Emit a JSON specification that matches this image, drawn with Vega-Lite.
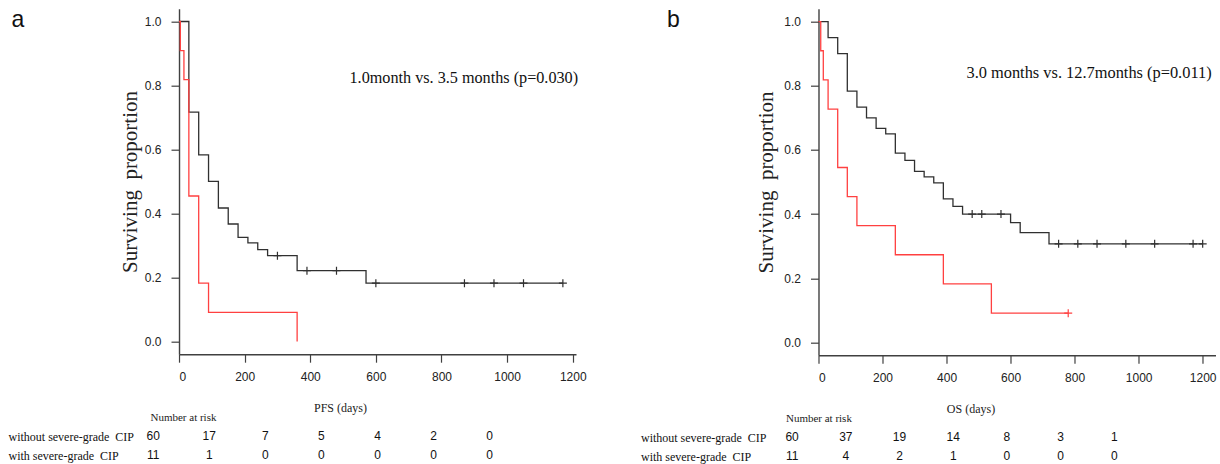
{
  "$schema": "https://vega.github.io/schema/vega-lite/v6.json",
  "background": "white",
  "padding": {"left": 8, "top": 8.7, "right": 0, "bottom": 0},
  "spacing": 53.5,
  "config": {
    "view": {"stroke": null},
    "axis": {"grid": false, "domainColor": "#404040", "tickColor": "#404040", "domainWidth": 1.4, "tickWidth": 1.2, "labelColor": "#222222", "titleColor": "#222222", "labelFont": "Liberation Sans", "labelFontSize": 12, "titleFont": "Liberation Serif", "titleFontWeight": "normal"}
  },
  "datasets": {
    "kmA": [
      {"t": 0, "s": 1.0, "g": "without"}, {"t": 30, "s": 0.717, "g": "without"}, {"t": 60, "s": 0.583, "g": "without"},
      {"t": 90, "s": 0.5, "g": "without"}, {"t": 120, "s": 0.417, "g": "without"}, {"t": 150, "s": 0.367, "g": "without"},
      {"t": 180, "s": 0.325, "g": "without"}, {"t": 210, "s": 0.308, "g": "without"}, {"t": 240, "s": 0.287, "g": "without"},
      {"t": 270, "s": 0.268, "g": "without"}, {"t": 360, "s": 0.221, "g": "without"}, {"t": 570, "s": 0.182, "g": "without"},
      {"t": 1170, "s": 0.182, "g": "without"},
      {"t": 0, "s": 1.0, "g": "with"}, {"t": 4, "s": 0.909, "g": "with"}, {"t": 15, "s": 0.818, "g": "with"},
      {"t": 30, "s": 0.4545, "g": "with"}, {"t": 60, "s": 0.182, "g": "with"}, {"t": 90, "s": 0.091, "g": "with"},
      {"t": 360, "s": 0.0, "g": "with"}
    ],
    "censA": [
      {"t": 300, "s": 0.268, "g": "without"}, {"t": 390, "s": 0.221, "g": "without"}, {"t": 480, "s": 0.221, "g": "without"},
      {"t": 600, "s": 0.182, "g": "without"}, {"t": 870, "s": 0.182, "g": "without"}, {"t": 960, "s": 0.182, "g": "without"},
      {"t": 1050, "s": 0.182, "g": "without"}, {"t": 1170, "s": 0.182, "g": "without"}
    ],
    "kmB": [
      {"t": 0, "s": 1.0, "g": "without"}, {"t": 30, "s": 0.95, "g": "without"}, {"t": 60, "s": 0.9, "g": "without"},
      {"t": 90, "s": 0.783, "g": "without"}, {"t": 120, "s": 0.733, "g": "without"}, {"t": 150, "s": 0.7, "g": "without"},
      {"t": 180, "s": 0.667, "g": "without"}, {"t": 210, "s": 0.65, "g": "without"}, {"t": 240, "s": 0.59, "g": "without"},
      {"t": 270, "s": 0.567, "g": "without"}, {"t": 300, "s": 0.533, "g": "without"}, {"t": 330, "s": 0.516, "g": "without"},
      {"t": 360, "s": 0.497, "g": "without"}, {"t": 390, "s": 0.447, "g": "without"}, {"t": 420, "s": 0.424, "g": "without"},
      {"t": 450, "s": 0.4, "g": "without"}, {"t": 600, "s": 0.373, "g": "without"}, {"t": 630, "s": 0.342, "g": "without"},
      {"t": 720, "s": 0.307, "g": "without"}, {"t": 1200, "s": 0.307, "g": "without"},
      {"t": 0, "s": 1.0, "g": "with"}, {"t": 7, "s": 0.909, "g": "with"}, {"t": 15, "s": 0.818, "g": "with"},
      {"t": 30, "s": 0.727, "g": "with"}, {"t": 60, "s": 0.545, "g": "with"}, {"t": 90, "s": 0.4545, "g": "with"},
      {"t": 120, "s": 0.364, "g": "with"}, {"t": 240, "s": 0.273, "g": "with"}, {"t": 390, "s": 0.182, "g": "with"},
      {"t": 540, "s": 0.091, "g": "with"}, {"t": 780, "s": 0.091, "g": "with"}
    ],
    "censB": [
      {"t": 480, "s": 0.4, "g": "without"}, {"t": 510, "s": 0.4, "g": "without"}, {"t": 570, "s": 0.4, "g": "without"},
      {"t": 750, "s": 0.307, "g": "without"}, {"t": 810, "s": 0.307, "g": "without"}, {"t": 870, "s": 0.307, "g": "without"},
      {"t": 960, "s": 0.307, "g": "without"}, {"t": 1050, "s": 0.307, "g": "without"}, {"t": 1170, "s": 0.307, "g": "without"},
      {"t": 1200, "s": 0.307, "g": "without"},
      {"t": 780, "s": 0.091, "g": "with"}
    ],
    "riskA": [
      {"row": "without severe-grade\u00a0 CIP", "t": 0, "n": 60}, {"row": "without severe-grade\u00a0 CIP", "t": 200, "n": 17},
      {"row": "without severe-grade\u00a0 CIP", "t": 400, "n": 7}, {"row": "without severe-grade\u00a0 CIP", "t": 600, "n": 5},
      {"row": "without severe-grade\u00a0 CIP", "t": 800, "n": 4}, {"row": "without severe-grade\u00a0 CIP", "t": 1000, "n": 2},
      {"row": "without severe-grade\u00a0 CIP", "t": 1200, "n": 0},
      {"row": "with severe-grade\u00a0 CIP", "t": 0, "n": 11}, {"row": "with severe-grade\u00a0 CIP", "t": 200, "n": 1},
      {"row": "with severe-grade\u00a0 CIP", "t": 400, "n": 0}, {"row": "with severe-grade\u00a0 CIP", "t": 600, "n": 0},
      {"row": "with severe-grade\u00a0 CIP", "t": 800, "n": 0}, {"row": "with severe-grade\u00a0 CIP", "t": 1000, "n": 0},
      {"row": "with severe-grade\u00a0 CIP", "t": 1200, "n": 0}
    ],
    "riskB": [
      {"row": "without severe-grade\u00a0 CIP", "t": 0, "n": 60}, {"row": "without severe-grade\u00a0 CIP", "t": 200, "n": 37},
      {"row": "without severe-grade\u00a0 CIP", "t": 400, "n": 19}, {"row": "without severe-grade\u00a0 CIP", "t": 600, "n": 14},
      {"row": "without severe-grade\u00a0 CIP", "t": 800, "n": 8}, {"row": "without severe-grade\u00a0 CIP", "t": 1000, "n": 3},
      {"row": "without severe-grade\u00a0 CIP", "t": 1200, "n": 1},
      {"row": "with severe-grade\u00a0 CIP", "t": 0, "n": 11}, {"row": "with severe-grade\u00a0 CIP", "t": 200, "n": 4},
      {"row": "with severe-grade\u00a0 CIP", "t": 400, "n": 2}, {"row": "with severe-grade\u00a0 CIP", "t": 600, "n": 1},
      {"row": "with severe-grade\u00a0 CIP", "t": 800, "n": 0}, {"row": "with severe-grade\u00a0 CIP", "t": 1000, "n": 0},
      {"row": "with severe-grade\u00a0 CIP", "t": 1200, "n": 0}
    ],
    "noteA": [{"note": "1.0month vs. 3.5 months (p=0.030)"}],
    "noteB": [{"note": "3.0 months vs. 12.7months (p=0.011)"}]
  },
  "hconcat": [
    {
      "spacing": 18,
      "vconcat": [
        {
          "width": 397, "height": 345.5,
          "layer": [
            {
              "data": {"name": "kmA"},
              "mark": {"type": "line", "interpolate": "step-after", "strokeWidth": 1.3},
              "encoding": {
                "x": {"field": "t", "type": "quantitative", "scale": {"domain": [0, 1210], "nice": false, "zero": false},
                      "axis": {"title": "a", "values": [0, 200, 400, 600, 800, 1000, 1200], "format": "d", "tickSize": 8, "labelPadding": 9,
                               "titleX": -168, "titleY": -327.2, "titleAlign": "left", "titleBaseline": "alphabetic", "titleAngle": 0, "titleFont": "Liberation Sans", "titleFontSize": 23, "titleColor": "#111111"}},
                "y": {"field": "s", "type": "quantitative", "scale": {"domain": [-0.04, 1.04], "nice": false, "zero": false},
                      "axis": {"title": "Surviving\u00a0 proportion", "values": [0, 0.2, 0.4, 0.6, 0.8, 1.0], "format": ".1f", "tickSize": 8, "labelPadding": 10, "titleFontSize": 21, "titleX": -49, "titleBaseline": "middle"}},
                "color": {"field": "g", "type": "nominal", "scale": {"domain": ["without", "with"], "range": ["#303030", "#ff4040"]}, "legend": null}
              }
            },
            {
              "data": {"name": "censA"},
              "mark": {"type": "point", "shape": "M-1,0H1M0,-1V1", "filled": false, "size": 64, "strokeWidth": 1.2, "opacity": 1},
              "encoding": {
                "x": {"field": "t", "type": "quantitative"},
                "y": {"field": "s", "type": "quantitative"},
                "color": {"field": "g", "type": "nominal", "legend": null}
              }
            },
            {
              "data": {"name": "noteA"},
              "mark": {"type": "text", "font": "Liberation Serif", "fontSize": 16.2, "align": "center", "baseline": "middle", "color": "#111111"},
              "encoding": {"x": {"datum": 868}, "y": {"datum": 0.823}, "text": {"field": "note"}}
            }
          ]
        },
        {
          "width": 397, "height": 57,
          "data": {"name": "riskA"},
          "mark": {"type": "text", "font": "Liberation Sans", "fontSize": 12, "color": "#111111", "align": "center", "baseline": "middle"},
          "encoding": {
            "x": {"field": "t", "type": "quantitative", "scale": {"domain": [92, 1508.2], "nice": false, "zero": false},
                  "axis": {"orient": "top", "title": "PFS (days)", "labels": false, "ticks": false, "domain": false, "titleX": 161, "titleY": -0.5, "titleBaseline": "middle", "titleAlign": "center", "titleFontSize": 12}},
            "y": {"field": "row", "type": "nominal", "scale": {"domain": ["hdr", "without severe-grade\u00a0 CIP", "with severe-grade\u00a0 CIP"], "paddingInner": 0, "paddingOuter": 0},
                  "axis": {"title": "Number at risk", "titleAngle": 0, "titleX": -29, "titleY": 9.5, "titleAlign": "left", "titleBaseline": "middle", "titleFontSize": 11,
                           "labelExpr": "datum.value == 'hdr' ? '' : datum.value", "labelAlign": "left", "labelBaseline": "middle", "labelPadding": 171, "ticks": false, "tickSize": 0, "domain": false,
                           "labelFont": "Liberation Serif", "labelFontSize": 12, "labelLimit": 400, "labelColor": "#111111"}},
            "text": {"field": "n", "type": "quantitative", "format": "d"}
          }
        }
      ]
    },
    {
      "spacing": 18,
      "vconcat": [
        {
          "width": 397, "height": 346.5,
          "layer": [
            {
              "data": {"name": "kmB"},
              "mark": {"type": "line", "interpolate": "step-after", "strokeWidth": 1.3},
              "encoding": {
                "x": {"field": "t", "type": "quantitative", "scale": {"domain": [0, 1240], "nice": false, "zero": false},
                      "axis": {"title": "b", "values": [0, 200, 400, 600, 800, 1000, 1200], "format": "d", "tickSize": 8, "labelPadding": 9,
                               "titleX": -152, "titleY": -328.5, "titleAlign": "left", "titleBaseline": "alphabetic", "titleAngle": 0, "titleFont": "Liberation Sans", "titleFontSize": 23, "titleColor": "#111111"}},
                "y": {"field": "s", "type": "quantitative", "scale": {"domain": [-0.04, 1.04], "nice": false, "zero": false},
                      "axis": {"title": "Surviving\u00a0 proportion", "values": [0, 0.2, 0.4, 0.6, 0.8, 1.0], "format": ".1f", "tickSize": 8, "labelPadding": 10, "titleFontSize": 21, "titleX": -52, "titleBaseline": "middle"}},
                "color": {"field": "g", "type": "nominal", "scale": {"domain": ["without", "with"], "range": ["#303030", "#ff4040"]}, "legend": null}
              }
            },
            {
              "data": {"name": "censB"},
              "mark": {"type": "point", "shape": "M-1,0H1M0,-1V1", "filled": false, "size": 64, "strokeWidth": 1.2, "opacity": 1},
              "encoding": {
                "x": {"field": "t", "type": "quantitative"},
                "y": {"field": "s", "type": "quantitative"},
                "color": {"field": "g", "type": "nominal", "legend": null}
              }
            },
            {
              "data": {"name": "noteB"},
              "mark": {"type": "text", "font": "Liberation Serif", "fontSize": 16.4, "align": "center", "baseline": "middle", "color": "#111111"},
              "encoding": {"x": {"datum": 845}, "y": {"datum": 0.84}, "text": {"field": "note"}}
            }
          ]
        },
        {
          "width": 397, "height": 57,
          "data": {"name": "riskB"},
          "mark": {"type": "text", "font": "Liberation Sans", "fontSize": 12, "color": "#111111", "align": "center", "baseline": "middle"},
          "encoding": {
            "x": {"field": "t", "type": "quantitative", "scale": {"domain": [98.3, 1576.6], "nice": false, "zero": false},
                  "axis": {"orient": "top", "title": "OS (days)", "labels": false, "ticks": false, "domain": false, "titleX": 152, "titleY": -0.5, "titleBaseline": "middle", "titleAlign": "center", "titleFontSize": 12}},
            "y": {"field": "row", "type": "nominal", "scale": {"domain": ["hdr", "without severe-grade\u00a0 CIP", "with severe-grade\u00a0 CIP"], "paddingInner": 0, "paddingOuter": 0},
                  "axis": {"title": "Number at risk", "titleAngle": 0, "titleX": -33, "titleY": 9.5, "titleAlign": "left", "titleBaseline": "middle", "titleFontSize": 11,
                           "labelExpr": "datum.value == 'hdr' ? '' : datum.value", "labelAlign": "left", "labelBaseline": "middle", "labelPadding": 178, "ticks": false, "tickSize": 0, "domain": false,
                           "labelFont": "Liberation Serif", "labelFontSize": 12, "labelLimit": 400, "labelColor": "#111111"}},
            "text": {"field": "n", "type": "quantitative", "format": "d"}
          }
        }
      ]
    }
  ]
}
